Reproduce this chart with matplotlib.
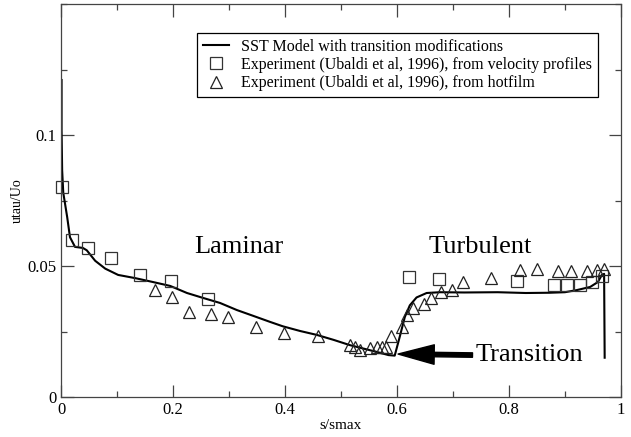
import matplotlib.pyplot as plt
from matplotlib.ticker import MultipleLocator

# SST model curve
model_x = [0.001, 0.001, 0.002, 0.004, 0.011, 0.016, 0.025, 0.039, 0.046, 0.061,
           0.079, 0.102, 0.132, 0.164, 0.195, 0.225, 0.254, 0.284, 0.314, 0.343,
           0.373, 0.396, 0.427, 0.457, 0.487, 0.516, 0.540, 0.564, 0.585, 0.596,
           0.605, 0.614, 0.623, 0.635, 0.653, 0.677, 0.720, 0.780, 0.830, 0.873,
           0.900, 0.921, 0.945, 0.959, 0.966, 0.970, 0.971]
model_y = [0.121, 0.102, 0.0866, 0.078, 0.0687, 0.061, 0.0573, 0.0569, 0.056, 0.052,
           0.049, 0.0466, 0.0454, 0.0439, 0.0424, 0.0397, 0.0378, 0.0359, 0.0332, 0.0310,
           0.0287, 0.0270, 0.0252, 0.0237, 0.0218, 0.0198, 0.0185, 0.0172, 0.0160, 0.0158,
           0.0230, 0.0305, 0.0350, 0.0380, 0.0397, 0.0400, 0.0399, 0.0400, 0.0397, 0.0398,
           0.0400, 0.0408, 0.0420, 0.0439, 0.0466, 0.0470, 0.0150]

# Experiment, velocity profiles (squares)
vel_x = [0.002, 0.020, 0.048, 0.089, 0.141, 0.196, 0.263, 0.622, 0.675, 0.814,
         0.880, 0.903, 0.927, 0.948, 0.966]
vel_y = [0.080, 0.060, 0.057, 0.053, 0.0466, 0.0443, 0.0374, 0.0458, 0.0450, 0.0443,
         0.0427, 0.0427, 0.0427, 0.0440, 0.0460]

# Experiment, hotfilm (triangles)
hot_x = [0.168, 0.198, 0.229, 0.268, 0.298, 0.348, 0.398, 0.459, 0.516, 0.525,
         0.534, 0.552, 0.564, 0.573, 0.580, 0.589, 0.609, 0.618, 0.629, 0.648,
         0.660, 0.679, 0.698, 0.718, 0.768, 0.820, 0.850, 0.888, 0.910, 0.939,
         0.957, 0.970]
hot_y = [0.041, 0.038, 0.0325, 0.0317, 0.0306, 0.0267, 0.0244, 0.0233, 0.0198, 0.019,
         0.018, 0.0187, 0.019, 0.019, 0.019, 0.0233, 0.0267, 0.0313, 0.034, 0.0355,
         0.0378, 0.040, 0.041, 0.044, 0.0454, 0.0485, 0.0489, 0.048, 0.048, 0.048,
         0.0485, 0.049]

plt.rcParams['font.family'] = ['Liberation Serif', 'DejaVu Serif']

fig, ax = plt.subplots(figsize=(6.31, 4.37), dpi=100)
fig.subplots_adjust(left=0.0967, right=0.984, bottom=0.0915, top=0.9908)

ax.plot(model_x, model_y, color='black', linewidth=1.5,
        label='SST Model with transition modifications')
ax.plot(vel_x, vel_y, linestyle='none', marker='s', markersize=8.5,
        markerfacecolor='none', markeredgecolor='#333333', markeredgewidth=0.9,
        clip_on=False,
        label='Experiment (Ubaldi et al, 1996), from velocity profiles')
ax.plot(hot_x, hot_y, linestyle='none', marker='^', markersize=9,
        markerfacecolor='none', markeredgecolor='#222222', markeredgewidth=0.9,
        clip_on=False,
        label='Experiment (Ubaldi et al, 1996), from hotfilm')

ax.text(0.318, 0.0573, 'Laminar', fontsize=19, ha='center', va='center')
ax.text(0.748, 0.0573, 'Turbulent', fontsize=19, ha='center', va='center')
ax.annotate('Transition', xy=(0.602, 0.0164), xytext=(0.836, 0.0160),
            fontsize=19, ha='center', va='center',
            arrowprops=dict(facecolor='black', edgecolor='black', width=3.2,
                            headwidth=14, headlength=26, shrink=0))

ax.set_xlim(0, 1)
ax.set_ylim(0, 0.15)
ax.xaxis.set_major_locator(MultipleLocator(0.2))
ax.xaxis.set_minor_locator(MultipleLocator(0.1))
ax.yaxis.set_major_locator(MultipleLocator(0.05))
ax.yaxis.set_minor_locator(MultipleLocator(0.025))
ax.set_xticks([0, 0.2, 0.4, 0.6, 0.8, 1])
ax.set_xticklabels(['0', '0.2', '0.4', '0.6', '0.8', '1'])
ax.set_yticks([0, 0.05, 0.1])
ax.set_yticklabels(['0', '0.05', '0.1'])
ax.tick_params(which='both', direction='in', top=True, right=True,
               labelsize=12, color='#444444')
ax.tick_params(which='major', length=9, width=0.9)
ax.tick_params(which='minor', length=4.5, width=0.9)
for sp in ax.spines.values():
    sp.set_linewidth(0.9)
    sp.set_color('#444444')

ax.set_xlabel('s/smax', fontsize=11, labelpad=1)
ax.set_ylabel('utau/Uo', fontsize=10, labelpad=2)

leg = ax.legend(loc='upper right', bbox_to_anchor=(0.959, 0.926), borderaxespad=0,
                fontsize=11.5, fancybox=False, framealpha=1, edgecolor='black',
                handlelength=1.6, handletextpad=0.8, labelspacing=0.15,
                borderpad=0.35)
leg.get_frame().set_linewidth(0.9)

fig.savefig('out.png', dpi=100)
